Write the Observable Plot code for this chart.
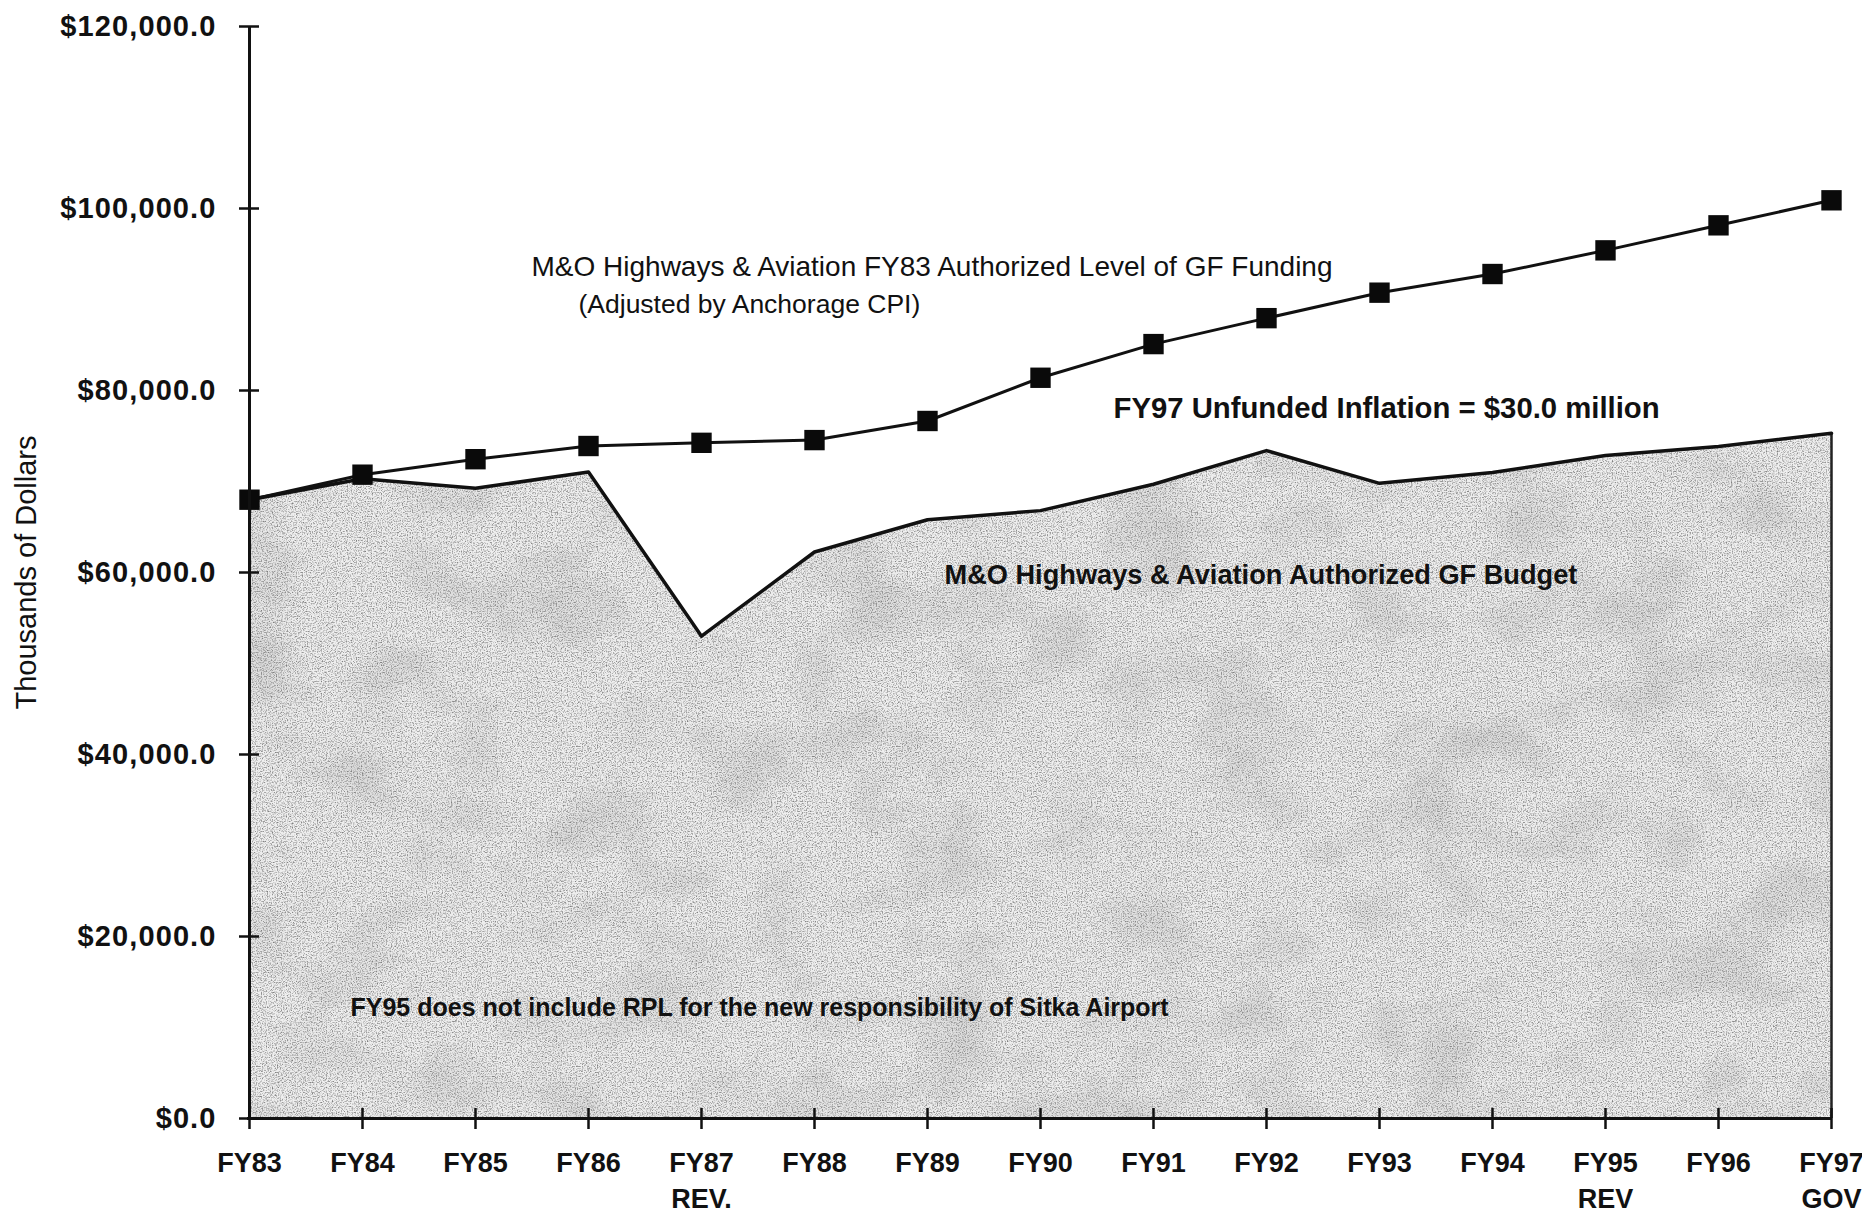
<!DOCTYPE html>
<html>
<head>
<meta charset="utf-8">
<script src="https://cdn.jsdelivr.net/npm/d3@7"></script>
<script src="https://cdn.jsdelivr.net/npm/@observablehq/plot@0.6"></script>
<style>
  body { margin: 0; background: #fff; }
  #chart svg { display: block; }
  #chart g[aria-label="y-axis tick label"] text { letter-spacing: 1.1px; }
</style>
</head>
<body>
<div id="chart"></div>
<script>
// Fiscal years on the x axis, with the second line shown under some of them
const years = ["FY83", "FY84", "FY85", "FY86", "FY87", "FY88", "FY89", "FY90",
               "FY91", "FY92", "FY93", "FY94", "FY95", "FY96", "FY97"];
const yearSubLabels = ["", "", "", "", "REV.", "", "", "", "", "", "", "", "REV", "", "GOV"];

// FY83 authorized GF funding level, adjusted by Anchorage CPI (thousands of dollars)
const cpiAdjustedLevel = [68000, 70750, 72450, 73900, 74250, 74550, 76650, 81400,
                          85100, 87950, 90750, 92800, 95400, 98150, 100900];

// Authorized GF budget, M&O Highways & Aviation (thousands of dollars)
const authorizedBudget = [68000, 70300, 69250, 71050, 53000, 62250, 65800, 66800,
                          69700, 73400, 69800, 71000, 72850, 73850, 75300];

const yTicks = [0, 20000, 40000, 60000, 80000, 100000, 120000];

const rows = years.map((year, i) => ({
  year,
  level: cpiAdjustedLevel[i],
  budget: authorizedBudget[i]
}));

const font = "'Liberation Sans', Arial, Helvetica, sans-serif";
const money = d => "$" + d3.format(",.1f")(d);
const yearLabel = d => {
  const sub = yearSubLabels[years.indexOf(d)];
  return sub ? d + "\n" + sub : d;
};

const chart = Plot.plot({
  width: 1862,
  height: 1212,
  marginLeft: 247,
  marginRight: 30,
  marginTop: 26,
  marginBottom: 94,
  style: { fontFamily: font, background: "#fff", color: "#111", overflow: "visible" },
  x: { type: "point", domain: years, padding: 0, axis: null },
  y: { domain: [0, 120000], axis: null },
  marks: [
    // shaded budget area
    Plot.areaY(rows, { x: "year", y: "budget", fill: "#efefef" }),
    Plot.ruleX(rows.slice(-1), { x: "year", y1: 0, y2: "budget", stroke: "#222", strokeWidth: 2.5 }),
    Plot.lineY(rows, { x: "year", y: "budget", stroke: "#111", strokeWidth: 3.5 }),

    // CPI-adjusted funding level with square markers
    Plot.lineY(rows, { x: "year", y: "level", stroke: "#111", strokeWidth: 3 }),
    Plot.dot(rows, { x: "year", y: "level", symbol: "square", r: 11.5, fill: "#0a0a0a", stroke: "none" }),

    // axis lines
    Plot.ruleX([years[0]], { stroke: "#111", strokeWidth: 3 }),
    Plot.ruleY([0], { stroke: "#111", strokeWidth: 3 }),

    // y axis: crossing ticks, then dollar labels
    Plot.axisY(yTicks, {
      anchor: "left", tickSize: 20, dx: 12, fill: "none", label: null,
      stroke: "#111", strokeWidth: 2.5
    }),
    Plot.axisY(yTicks, {
      anchor: "left", tickFormat: money, tickSize: 0, tickPadding: 31, stroke: "none", label: null,
      fontSize: 29, fontWeight: "bold", fill: "#111"
    }),

    // x axis: crossing ticks, then year labels
    Plot.axisX(years, {
      anchor: "bottom", tickSize: 21, dy: -10, fill: "none", label: null,
      stroke: "#111", strokeWidth: 2.5
    }),
    Plot.axisX(years, {
      anchor: "bottom", tickFormat: yearLabel, tickSize: 0, tickPadding: 29, stroke: "none", label: null,
      fontSize: 27, fontWeight: "bold", lineHeight: 1.3, fill: "#111"
    }),

    // y axis title
    Plot.text(["Thousands of Dollars"], {
      frameAnchor: "left", textAnchor: "middle", rotate: -90, dx: -221,
      fontSize: 29, fill: "#111"
    }),

    // annotations
    Plot.text(["M&O Highways & Aviation FY83 Authorized Level of GF Funding"], {
      x: () => "FY86", y: () => 93600, dx: -57, textAnchor: "start",
      fontSize: 28, fill: "#111"
    }),
    Plot.text(["(Adjusted by Anchorage CPI)"], {
      x: () => "FY86", y: () => 89450, dx: -10, textAnchor: "start",
      fontSize: 26.5, fill: "#111"
    }),
    Plot.text(["FY97 Unfunded Inflation = $30.0 million"], {
      x: () => "FY91", y: () => 78000, dx: -40, textAnchor: "start",
      fontSize: 29.3, fontWeight: "bold", fill: "#111"
    }),
    Plot.text(["M&O Highways & Aviation Authorized GF Budget"], {
      x: () => "FY89", y: () => 59700, dx: 17, textAnchor: "start",
      fontSize: 27.2, fontWeight: "bold", fill: "#111"
    }),
    Plot.text(["FY95 does not include RPL for the new responsibility of Sitka Airport"], {
      x: () => "FY84", y: () => 12100, dx: -12, textAnchor: "start",
      fontSize: 25, fontWeight: "bold", fill: "#111"
    })
  ]
});

// stippled, photocopied-looking texture for the budget area
chart.insertAdjacentHTML("afterbegin", `
<defs>
  <filter id="grain" filterUnits="userSpaceOnUse" x="0" y="0" width="1862" height="1212"
          color-interpolation-filters="sRGB">
    <feTurbulence type="fractalNoise" baseFrequency="0.8" numOctaves="2" seed="11" result="fine"/>
    <feColorMatrix in="fine" type="matrix"
      values="0 0 0 0 0.5  0 0 0 0 0.5  0 0 0 0 0.5  2.6 0 0 0 -1.15" result="specks"/>
    <feTurbulence type="fractalNoise" baseFrequency="0.01 0.014" numOctaves="3" seed="4" result="coarse"/>
    <feColorMatrix in="coarse" type="matrix"
      values="0 0 0 0 0.55  0 0 0 0 0.55  0 0 0 0 0.55  0.6 0 0 0 -0.28" result="blotch"/>
    <feMerge result="tex">
      <feMergeNode in="SourceGraphic"/>
      <feMergeNode in="blotch"/>
      <feMergeNode in="specks"/>
    </feMerge>
    <feComposite in="tex" in2="SourceAlpha" operator="in"/>
  </filter>
</defs>`);
const areaGroup = chart.querySelector('g[aria-label="area"]');
if (areaGroup) areaGroup.setAttribute("filter", "url(#grain)");

document.getElementById("chart").append(chart);
</script>
</body>
</html>
